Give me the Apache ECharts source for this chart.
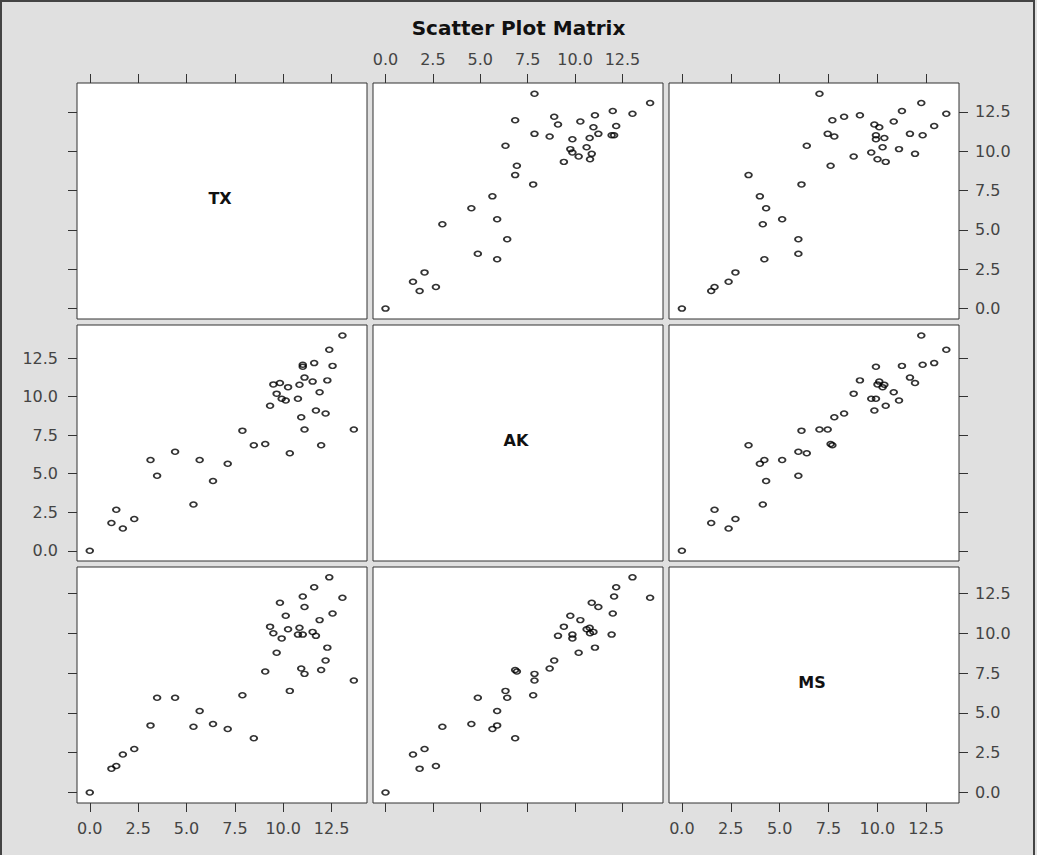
<!DOCTYPE html>
<html><head><meta charset="utf-8">
<script src="https://cdn.jsdelivr.net/npm/echarts@6/dist/echarts.min.js"></script>
<style>html,body{margin:0;padding:0;background:#e0e0e0}#c{width:1037px;height:855px}</style>
</head><body><div id="c"></div>
<script>
// ---- data (one entry per observation) ----
const varNames = ['TX', 'AK', 'MS'];
const TX = [13.65, 13.06, 12.55, 12.38, 12.28, 12.19, 11.96, 11.88, 11.69, 11.60, 11.52, 11.10, 11.10, 10.93, 10.76, 10.84, 11.01, 11.01, 10.34, 10.13, 9.92, 10.25, 9.83, 9.66, 9.49, 9.32, 9.07, 8.48, 7.89, 7.13, 6.37, 5.68, 5.36, 4.41, 3.48, 3.14, 2.30, 1.71, 1.37, 1.12, 0];
const AK = [7.86, 13.96, 11.99, 13.03, 11.05, 8.90, 6.84, 10.28, 9.10, 12.17, 10.97, 11.23, 7.86, 8.66, 9.86, 10.77, 11.93, 12.06, 6.33, 9.75, 9.86, 10.61, 10.88, 10.19, 10.79, 9.41, 6.93, 6.84, 7.79, 5.64, 4.53, 5.89, 3.00, 6.42, 4.87, 5.89, 2.06, 1.45, 2.66, 1.80, 0];
const MS = [7.04, 12.25, 11.26, 13.53, 9.11, 8.30, 7.70, 10.84, 9.85, 12.91, 10.10, 11.67, 7.46, 7.80, 9.93, 10.36, 9.93, 12.32, 6.39, 11.11, 9.69, 10.27, 11.93, 8.79, 10.01, 10.43, 7.61, 3.41, 6.12, 3.99, 4.31, 5.13, 4.14, 5.96, 5.96, 4.22, 2.74, 2.39, 1.67, 1.50, 0];
const tickValues = [0, 2.5, 5, 7.5, 10, 12.5];
const tickLabels = ['0.0', '2.5', '5.0', '7.5', '10.0', '12.5'];
const titleText = 'Scatter Plot Matrix';

// ---- scales / layout ----
const vars = [TX, AK, MS];
const axisRanges = [[-0.66, 14.33], [-0.66, 14.64], [-0.66, 14.18]];
const colLeft = [77, 373, 669];
const rowTop = [83, 325, 567];
const W = 290, H = 236;
const labelFont = { fontFamily: 'DejaVu Sans', fontSize: 16, color: '#444' };
const ringPath = 'path://M0,-10C5.52,-10 10,-5.52 10,0C10,5.52 5.52,10 0,10C-5.52,10 -10,5.52 -10,0C-10,-5.52 -5.52,-10 0,-10Z';
const fmt = v => { const i = tickValues.indexOf(v); return i >= 0 ? tickLabels[i] : ''; };

const grid = [], xAxis = [], yAxis = [], series = [], graphic = [];
for (let r = 0; r < 3; r++) {
  for (let c = 0; c < 3; c++) {
    const g = r * 3 + c;
    grid.push({ left: colLeft[c], top: rowTop[r], width: W, height: H, show: true,
      backgroundColor: '#fff', borderColor: '#333', borderWidth: 1 });
    const xShow = r !== 1;
    const xLabel = (r === 0 && c === 1) || (r === 2 && c !== 1);
    xAxis.push({ type: 'value', gridIndex: g, min: axisRanges[c][0], max: axisRanges[c][1],
      show: xShow, position: r === 0 ? 'top' : 'bottom',
      axisLine: { show: false, onZero: false }, splitLine: { show: false },
      axisTick: { show: true, inside: false, length: 9, customValues: tickValues, lineStyle: { color: '#333', width: 1 } },
      axisLabel: Object.assign({ show: xLabel, customValues: tickValues, formatter: fmt, margin: r === 0 ? 16 : 17 }, labelFont) });
    const yShow = c !== 1;
    const yLabel = (c === 0 && r === 1) || (c === 2 && r !== 1);
    yAxis.push({ type: 'value', gridIndex: g, min: axisRanges[r][0], max: axisRanges[r][1],
      show: yShow, position: c === 0 ? 'left' : 'right',
      axisLine: { show: false, onZero: false }, splitLine: { show: false },
      axisTick: { show: true, inside: false, length: 9, customValues: tickValues, lineStyle: { color: '#333', width: 1 } },
      axisLabel: Object.assign({ show: yLabel, customValues: tickValues, formatter: fmt, margin: c === 0 ? 19 : 16 }, labelFont) });
    if (r === c) {
      graphic.push({ type: 'text', x: colLeft[c] + W / 2 - 2, y: rowTop[r] + H / 2 - 3, silent: true,
        style: { text: varNames[r], fontFamily: 'DejaVu Sans', fontWeight: 'bold', fontSize: 16, fill: '#111',
          align: 'center', verticalAlign: 'middle', textAlign: 'center', textVerticalAlign: 'middle' } });
    } else {
      series.push({ type: 'scatter', xAxisIndex: g, yAxisIndex: g, silent: true,
        symbol: ringPath, symbolSize: [6.6, 5],
        itemStyle: { color: 'rgba(0,0,0,0)', borderColor: '#000', borderWidth: 1.7 },
        emphasis: { disabled: true },
        data: vars[c].map((v, i) => [v, vars[r][i]]) });
    }
  }
}
graphic.push({ type: 'rect', silent: true, shape: { x: 1, y: 1, width: 1033, height: 880 },
  style: { fill: 'none', stroke: '#444', lineWidth: 2 } });

const chart = echarts.init(document.getElementById('c'), null, { renderer: 'svg' });
chart.setOption({
  backgroundColor: '#e0e0e0',
  animation: false,
  title: { text: titleText, left: 'center', top: 13,
    textStyle: { fontFamily: 'DejaVu Sans', fontWeight: 'bold', fontSize: 20, color: '#111' } },
  grid, xAxis, yAxis, series, graphic
});
</script></body></html>
